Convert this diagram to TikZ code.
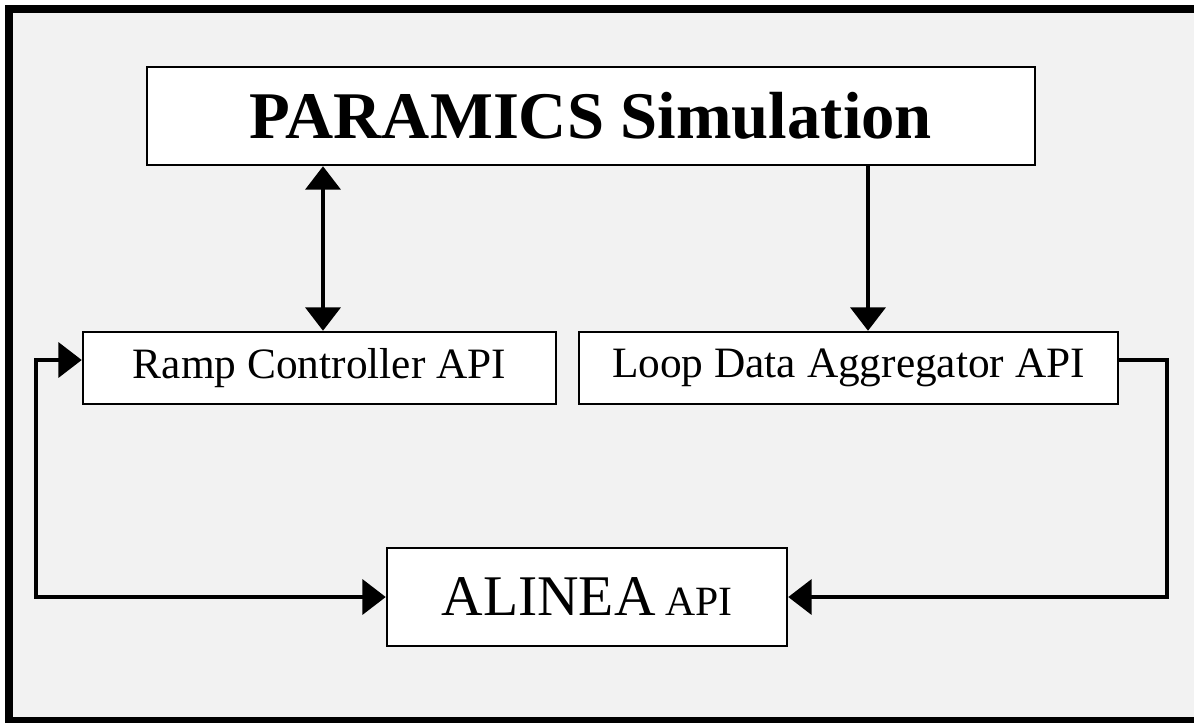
\documentclass[tikz,border=0pt]{standalone}
\usepackage{fontspec}
\setmainfont{Liberation Serif}
\usetikzlibrary{arrows.meta,calc}
\definecolor{bggray}{RGB}{242,242,242}
\tikzset{
  box/.style={draw=black, fill=white, line width=1.5pt, inner sep=0pt, anchor=center},
  conn/.style={line width=2pt, draw=black},
  tip/.style={-{Triangle[width=21pt,length=14pt]}},
  dtip/.style={{Triangle[width=21pt,length=14pt]}-{Triangle[width=21pt,length=14pt]}},
}
\begin{document}
\begin{tikzpicture}[x=0.6pt,y=-0.6pt]
\clip (0,0) rectangle (1194,722);
\fill[bggray] (9,9) rectangle (1240,721);
\draw[line width=4.8pt] (9,9) rectangle (1240,721);

\node[box, minimum width=532.8pt, minimum height=58.8pt] (param) at (591,116)
  {\fontsize{40pt}{44pt}\selectfont\bfseries PARAMICS Simulation};
\node[box, minimum width=283.8pt, minimum height=43.2pt] (ramp) at (319.5,368)
  {\fontsize{26pt}{30pt}\selectfont Ramp Controller API};
\node[box, minimum width=323.4pt, minimum height=43.2pt] (loop) at (848.5,368)
  {\fontsize{26pt}{30pt}\selectfont Loop Data Aggregator API};
\node[box, minimum width=240pt, minimum height=58.8pt] (alinea) at (587,597)
  {\fontsize{34.5pt}{38pt}\selectfont ALINEA\,{\fontsize{25pt}{28pt}\selectfont API}};

\coordinate (xa) at (323,0);
\coordinate (xb) at (868,0);
\coordinate (xr) at (1167,0);
\coordinate (xl) at (36,0);
\coordinate (yf) at (0,360);
\coordinate (ya) at (0,597);

\draw[conn, dtip] (ramp.north -| xa) -- (param.south -| xa);
\draw[conn, tip] (param.south -| xb) -- (loop.north -| xb);
\draw[conn, tip] (loop.east |- yf) -- (xr |- yf) -- (xr |- ya) -- (alinea.east |- ya);
\draw[conn, dtip] (alinea.west |- ya) -- (xl |- ya) -- (xl |- yf) -- (ramp.west |- yf);
\end{tikzpicture}
\end{document}
